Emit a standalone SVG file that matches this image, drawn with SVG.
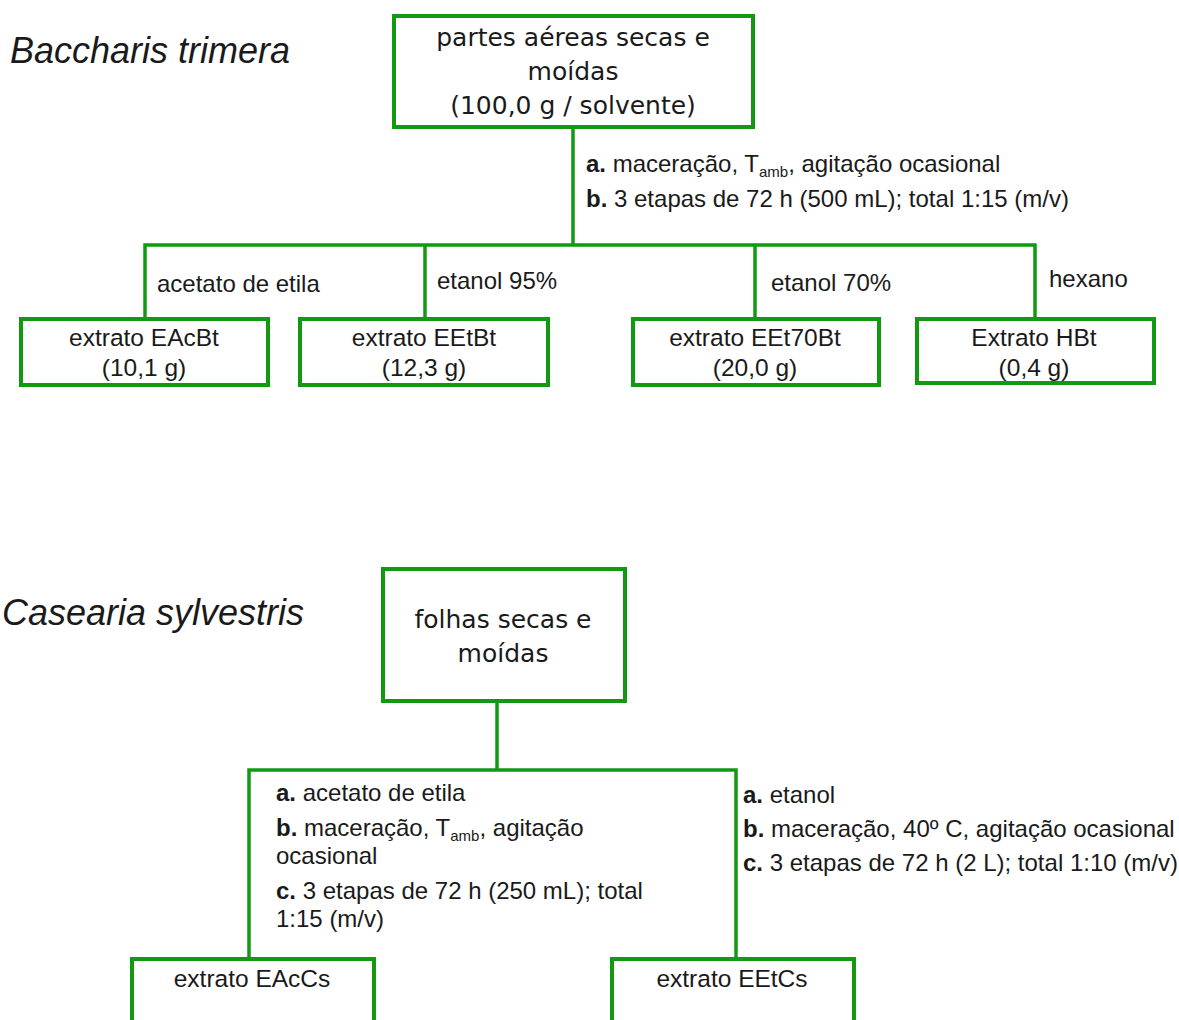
<svg xmlns="http://www.w3.org/2000/svg" width="1179" height="1020" viewBox="0 0 1179 1020">
<style>
.box{fill:#fff;stroke:#119a11;stroke-width:4}
.ln{fill:none;stroke:#119a11;stroke-width:3.5;stroke-linecap:square}
.t{font-family:"Liberation Sans",Arial,sans-serif;font-size:24px;fill:#1a1a1a}
.n{font-size:24.5px}
.c{text-anchor:middle}
.hd{font-family:"DejaVu Sans","Noto Sans",sans-serif;font-size:25px;fill:#1a1a1a;text-anchor:middle}
.ti{font-family:"Liberation Sans",Arial,sans-serif;font-size:36px;font-style:italic;fill:#1a1a1a}
.b{font-weight:bold}
.sub{font-size:15px}
</style>
<rect width="1179" height="1020" fill="#fff"/>
<text class="ti" x="10" y="63">Baccharis trimera</text>
<text class="ti" x="2" y="625">Casearia sylvestris</text>
<g id="connectors">
<path class="ln" d="M573 128V245M145 245H1035M145 245V318M425 245V318M755 245V318M1035 245V318"/>
<path class="ln" d="M497 702V770M249 770H736M249 770V958M736 770V958"/>
</g>
<g id="labels">
<text class="t" x="586" y="172"><tspan class="b">a.</tspan> maceração, T<tspan class="sub" dy="5">amb</tspan><tspan dy="-5">, agitação ocasional</tspan></text>
<text class="t" x="586" y="207"><tspan class="b">b.</tspan> 3 etapas de 72 h (500 mL); total 1:15 (m/v)</text>
<text class="t" x="157" y="292">acetato de etila</text>
<text class="t" x="437" y="289">etanol 95%</text>
<text class="t" x="771" y="291">etanol 70%</text>
<text class="t" x="1049" y="287">hexano</text>
<text class="t" x="276" y="801"><tspan class="b">a.</tspan> acetato de etila</text>
<text class="t" x="276" y="836"><tspan class="b">b.</tspan> maceração, T<tspan class="sub" dy="5">amb</tspan><tspan dy="-5">,  agitação</tspan></text>
<text class="t" x="276" y="864">ocasional</text>
<text class="t" x="276" y="899"><tspan class="b">c.</tspan> 3 etapas de 72 h (250 mL); total</text>
<text class="t" x="276" y="927">1:15 (m/v)</text>
<text class="t" x="743" y="803"><tspan class="b">a.</tspan> etanol</text>
<text class="t" x="743" y="837"><tspan class="b">b.</tspan> maceração, 40º C, agitação ocasional</text>
<text class="t" x="743" y="871"><tspan class="b">c.</tspan> 3 etapas de 72 h (2 L); total 1:10 (m/v)</text>
</g>
<g id="n-top">
<rect class="box" x="394" y="16" width="359" height="111"/>
<text class="hd" x="573" y="46">partes aéreas secas e</text>
<text class="hd" x="573" y="80">moídas</text>
<text class="hd" x="573" y="114">(100,0 g / solvente)</text>
</g>
<g id="n-eacbt">
<rect class="box" x="21" y="319" width="247" height="66"/>
<text class="t n c" x="144" y="346">extrato EAcBt</text>
<text class="t n c" x="144" y="376">(10,1 g)</text>
</g>
<g id="n-eetbt">
<rect class="box" x="300" y="319" width="248" height="66"/>
<text class="t n c" x="424" y="346">extrato EEtBt</text>
<text class="t n c" x="424" y="376">(12,3 g)</text>
</g>
<g id="n-eet70bt">
<rect class="box" x="633" y="319" width="246" height="66"/>
<text class="t n c" x="755" y="346">extrato EEt70Bt</text>
<text class="t n c" x="755" y="376">(20,0 g)</text>
</g>
<g id="n-hbt">
<rect class="box" x="917" y="319" width="237" height="64"/>
<text class="t n c" x="1034" y="346">Extrato HBt</text>
<text class="t n c" x="1034" y="376">(0,4 g)</text>
</g>
<g id="n-folhas">
<rect class="box" x="383" y="569" width="242" height="132"/>
<text class="hd" x="503" y="628">folhas secas e</text>
<text class="hd" x="503" y="662">moídas</text>
</g>
<g id="n-eaccs">
<rect class="box" x="132" y="959" width="242" height="80"/>
<text class="t n c" x="252" y="987">extrato EAcCs</text>
</g>
<g id="n-eetcs">
<rect class="box" x="612" y="959" width="242" height="80"/>
<text class="t n c" x="732" y="987">extrato EEtCs</text>
</g>
</svg>
